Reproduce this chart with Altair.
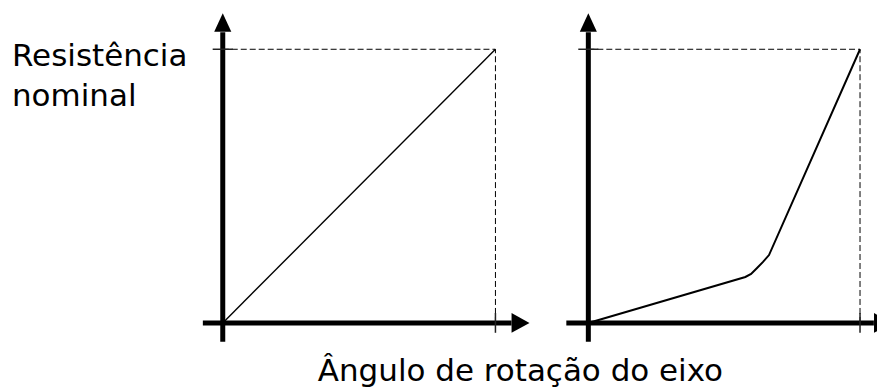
import altair as alt
import pandas as pd

# ---- data (normalised: 0 = origin, 1 = nominal value) ----
left_x = [0.0, 1.0]
left_y = [0.0, 1.0]
right_x = [0.0, 0.578, 0.599, 0.621, 0.643, 0.665, 1.0]
right_y = [0.0, 0.168, 0.179, 0.201, 0.223, 0.248, 1.0]
nominal_x = [1.0]
nominal_y = [1.0]
y_label = ["Resistência", "nominal"]
x_label = "Ângulo de rotação do eixo"

FONT = "DejaVu Sans"
YMIN, YMAX = -0.08, 1.15

ARROW_R = "M-1,-1.1L1,0L-1,1.1Z"
# right-hand arrow is cut by the picture's edge
ARROW_R_CUT = "M-1,-1.1L-0.667,-0.917L-0.667,0.917L-1,1.1Z"
ARROW_U = "M-0.95,1L0,-1.05L0.95,1Z"


def panel(cx, cy, xmin, xmax, width, x_lo, x_hi, arrow_x, arrow_shape, lw, extra=()):
    xsc = alt.Scale(domain=[xmin, xmax], nice=False, zero=False)
    ysc = alt.Scale(domain=[YMIN, YMAX], nice=False, zero=False)
    X = lambda f: alt.X(f, type="quantitative", scale=xsc, axis=None)
    Y = lambda f: alt.Y(f, type="quantitative", scale=ysc, axis=None)

    curve = pd.DataFrame({"x": cx, "y": cy})

    h_axis = alt.Chart(pd.DataFrame({"x": [x_lo], "x2": [x_hi], "y": [0.0]})).mark_rule(
        color="black", strokeWidth=5, strokeCap="butt").encode(x=X("x"), x2="x2", y=Y("y"))
    v_axis = alt.Chart(pd.DataFrame({"x": [0.0], "y": [-0.069], "y2": [1.062]})).mark_rule(
        color="black", strokeWidth=5, strokeCap="butt").encode(x=X("x"), y=Y("y"), y2="y2")

    x_tick = alt.Chart(pd.DataFrame({"x": nominal_x, "y": [-0.036], "y2": [0.036]})).mark_rule(
        color="#222", strokeWidth=1.5).encode(x=X("x"), y=Y("y"), y2="y2")
    y_tick = alt.Chart(pd.DataFrame({"x": [-0.037], "x2": [0.037], "y": nominal_y})).mark_rule(
        color="#222", strokeWidth=1.5).encode(x=X("x"), x2="x2", y=Y("y"))

    dash_h = alt.Chart(pd.DataFrame({"x": [0.0], "x2": nominal_x, "y": nominal_y})).mark_rule(
        color="black", strokeWidth=1, strokeDash=[6, 3]).encode(x=X("x"), x2="x2", y=Y("y"))
    dash_v = alt.Chart(pd.DataFrame({"x": nominal_x, "y": [0.0], "y2": nominal_y})).mark_rule(
        color="black", strokeWidth=1, strokeDash=[6, 3]).encode(x=X("x"), y=Y("y"), y2="y2")

    line = alt.Chart(curve).mark_line(color="black", strokeWidth=lw).encode(
        x=X("x"), y=Y("y"), order=alt.Order("x:Q"))

    arr_r = alt.Chart(pd.DataFrame({"x": [arrow_x], "y": [0.0]})).mark_point(
        shape=arrow_shape, size=324, filled=True, opacity=1, color="black",
        strokeWidth=0).encode(x=X("x"), y=Y("y"))
    arr_u = alt.Chart(pd.DataFrame({"x": [0.0], "y": [1.097]})).mark_point(
        shape=ARROW_U, size=324, filled=True, opacity=1, color="black", strokeWidth=0).encode(
        x=X("x"), y=Y("y"))

    layers = [dash_h, dash_v, line, h_axis, v_axis, x_tick, y_tick, arr_r, arr_u] + list(extra)
    return alt.layer(*layers).properties(width=width, height=337)


one = pd.DataFrame({"k": [0]})


def label(text, x, y, size, align):
    return alt.Chart(one).mark_text(align=align, baseline="alphabetic", font=FONT,
                                    fontSize=size, color="black").encode(
        x=alt.value(x), y=alt.value(y), text=alt.value(text))


lbl1 = label(y_label[0], -189, 58, 31, "left")
lbl2 = label(y_label[1], -189, 98, 31, "left")
lbl3 = label(x_label, 320, 373, 31, "center")

left = panel(left_x, left_y, -0.0806, 1.1282, 330, -0.073, 1.059, 1.092, ARROW_R, 1.4,
             extra=(lbl1, lbl2, lbl3))
right = panel(right_x, right_y, -0.0809, 1.0625, 311, -0.081, 1.051, 1.0846, ARROW_R_CUT, 2)

chart = alt.hconcat(left, right, spacing=36, bounds="flush").properties(
    padding={"left": 4, "top": 0, "right": 0, "bottom": 0}
).configure_view(stroke=None)

chart.save("out.html", embed_options={"renderer": "svg", "actions": False})
